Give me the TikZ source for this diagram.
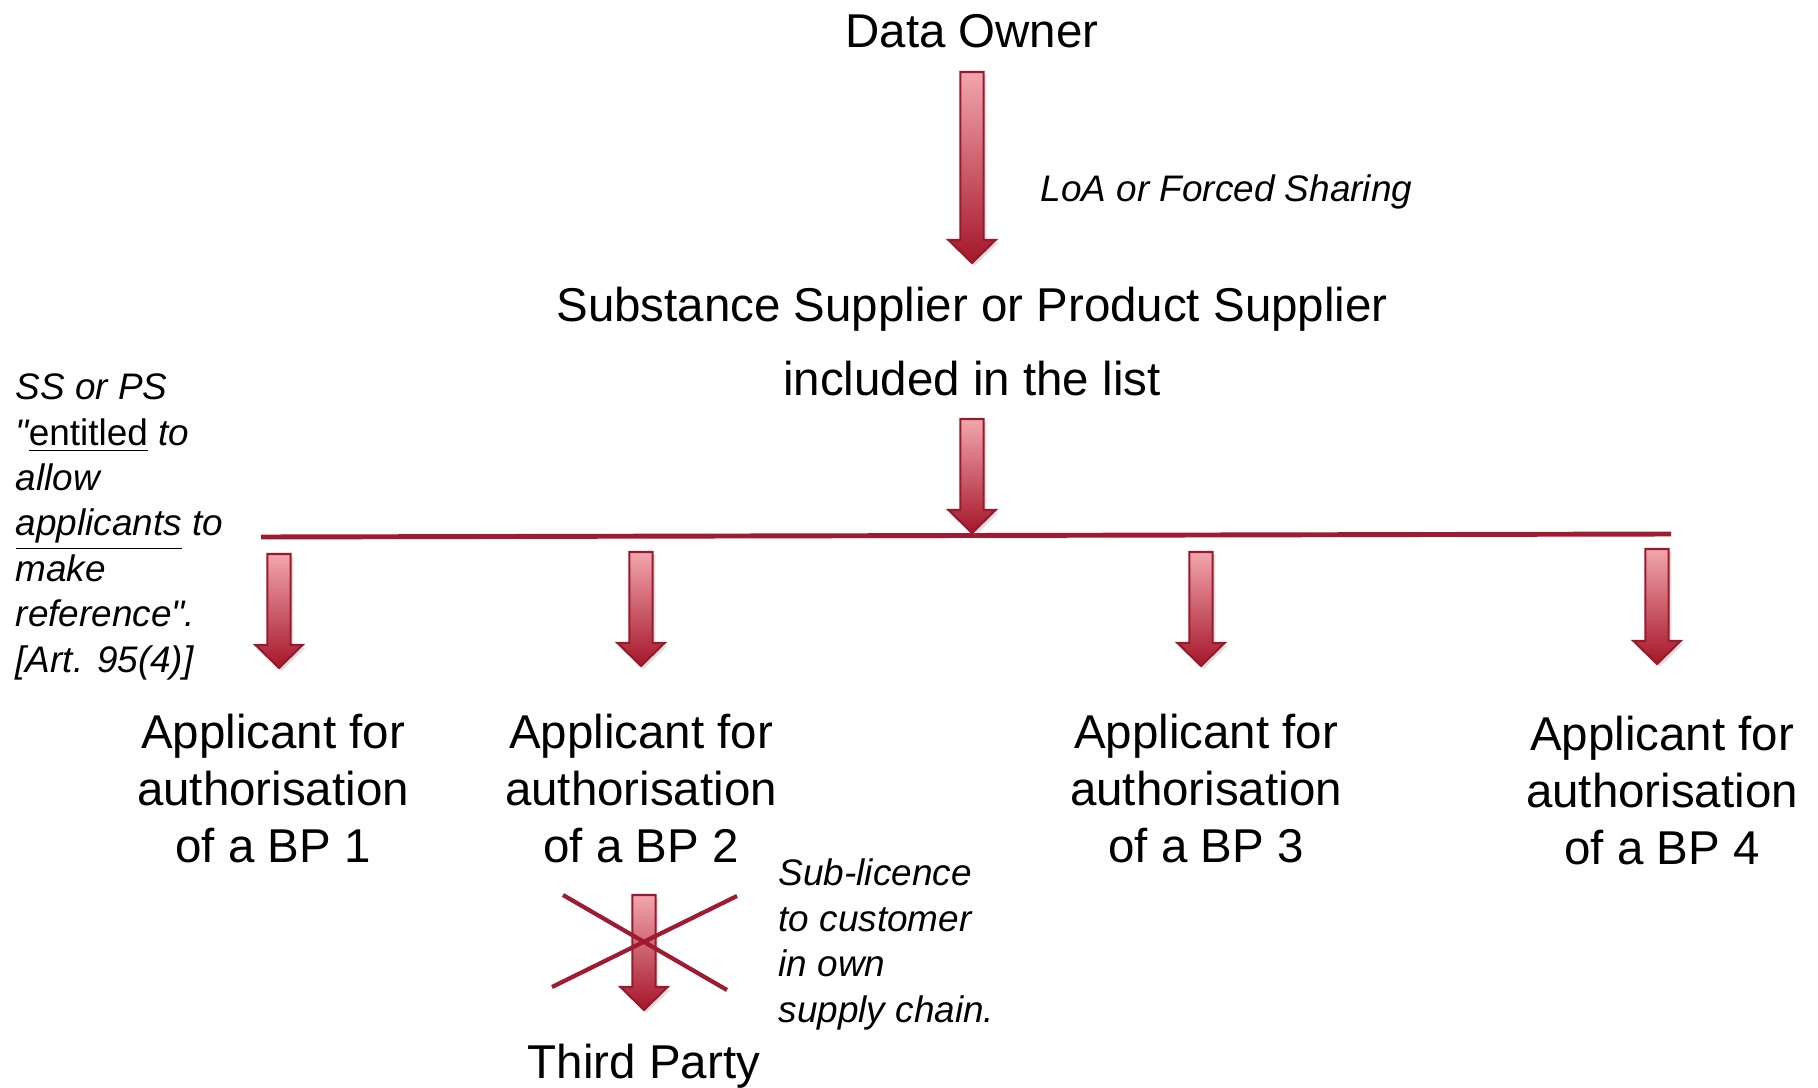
\documentclass[tikz,border=0pt]{standalone}
\usepackage{fontspec}
\setmainfont{Liberation Sans}
\usetikzlibrary{calc}
\usetikzlibrary{shadows}

\definecolor{arrowtop}{HTML}{F2A6AD}
\definecolor{arrowbot}{HTML}{A5162A}
\definecolor{arrowline}{HTML}{9A1A2D}
\definecolor{barred}{HTML}{9E1B32}

\tikzset{
	arrowbody/.style={draw=arrowline,line width=0.6pt,top color=arrowtop,bottom color=arrowbot,
		drop shadow={opacity=0.25,shadow xshift=0.8pt,shadow yshift=-0.8pt}},
	bar/.style={draw=barred,line width=1.4pt,
		drop shadow={opacity=0.25,shadow xshift=0.6pt,shadow yshift=-0.8pt}},
	cross/.style={draw=barred,line width=1.2pt,
		drop shadow={opacity=0.25,shadow xshift=0.6pt,shadow yshift=-0.8pt}},
	party/.style={font=\fontsize{13.5}{16.2}\selectfont,align=center,inner sep=0pt},
	note/.style={font=\fontsize{10.5}{12.9}\selectfont\itshape,align=left,inner sep=0pt}
}

% fat down arrow from #1 (top of shaft) to #2 (tip)
\newcommand{\blockarrow}[2]{%
	\path[arrowbody] let \p1=(#1), \p2=(#2) in
		(\x1-3.3pt,\y1) -- (\x1+3.3pt,\y1) -- (\x1+3.3pt,\y2+6.55pt) -- (\x1+6.7pt,\y2+6.55pt)
		-- (\x1,\y2) -- (\x1-6.7pt,\y2+6.55pt) -- (\x1-3.3pt,\y2+6.55pt) -- cycle;}

\begin{document}
\begin{tikzpicture}[x=0.01cm,y=-0.01cm]
	\useasboundingbox (0,0) rectangle (1818,1088);

	% base = baseline of the last line
	\node (owner) [party,anchor=base] at (972,48) {Data Owner};
	\node (supp) [party,anchor=base,font=\fontsize{13.5}{20.8}\selectfont] at (972,395)
		{Substance Supplier or Product Supplier\\included in the list};
	\node (bp1) [party,anchor=base] at (273,862) {Applicant for\\authorisation\\of a BP 1};
	\node (bp2) [party,anchor=base] at (641,862) {Applicant for\\authorisation\\of a BP 2};
	\node (bp3) [party,anchor=base] at (1206,862) {Applicant for\\authorisation\\of a BP 3};
	\node (bp4) [party,anchor=base] at (1662,864) {Applicant for\\authorisation\\of a BP 4};
	\node (third) [party,anchor=base] at (644,1078) {Third Party};

	\node (loa) [note,anchor=base west] at (1040,202) {LoA or Forced Sharing};
	\node (entitled) [note,anchor=base west] at (15,672)
		{SS or PS\\\textquotedbl\underline{\upshape entitled} to\\allow\\\underline{applicants} to\\make\\reference\textquotedbl.\\{[}Art. 95(4)]};
	\node (sublic) [note,anchor=base west] at (778,1022) {Sub-licence\\to customer\\in own\\supply chain.};

	% arrow ends
	\coordinate (t0) at (972,72);   \coordinate (h0) at (972,263);
	\coordinate (t1) at (972,419);  \coordinate (h1) at (972,533);
	\coordinate (t2) at (279,554);  \coordinate (h2) at (279,668);
	\coordinate (t3) at (641,552);  \coordinate (h3) at (641,666);
	\coordinate (t4) at (1201,552); \coordinate (h4) at (1201,666);
	\coordinate (t5) at (1657,549); \coordinate (h5) at (1657,664);
	\coordinate (t6) at (644,895);  \coordinate (h6) at (644,1010);
	\coordinate (barl) at (261,537); \coordinate (barr) at (1671,534);

	\draw[bar] (barl) -- (barr);
	\blockarrow{t0}{h0}
	\blockarrow{t1}{h1}
	\blockarrow{t2}{h2}
	\blockarrow{t3}{h3}
	\blockarrow{t4}{h4}
	\blockarrow{t5}{h5}
	\blockarrow{t6}{h6}

	% crossed out sub-licence
	\coordinate (xa) at (563,895); \coordinate (xb) at (727,990);
	\coordinate (xc) at (737,896); \coordinate (xd) at (552,987);
	\draw[cross] (xa) -- (xb);
	\draw[cross] (xc) -- (xd);
\end{tikzpicture}
\end{document}
